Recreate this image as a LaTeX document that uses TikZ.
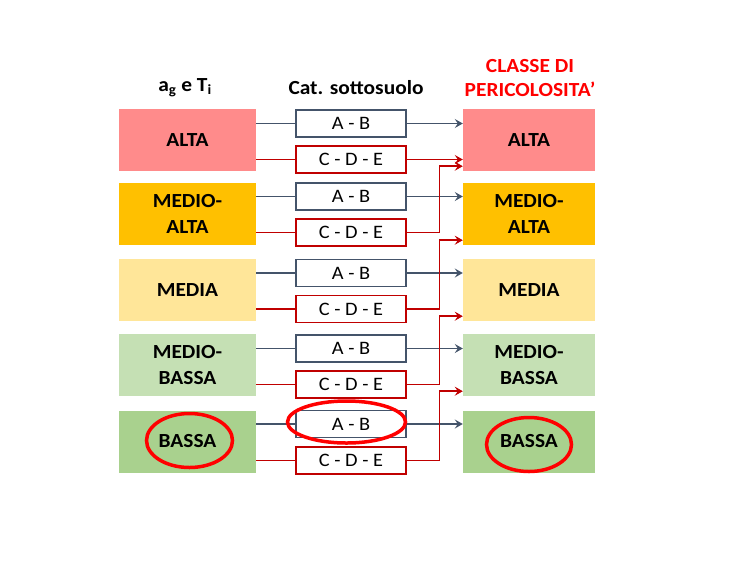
\documentclass[tikz,border=0pt]{standalone}
\usepackage{fontspec}
\setmainfont[FakeStretch=1.07]{Carlito}
\usetikzlibrary{arrows.meta,calc}
\definecolor{cAlta}{HTML}{FF8B8B}
\definecolor{cMAlta}{HTML}{FFC000}
\definecolor{cMedia}{HTML}{FFE699}
\definecolor{cMBassa}{HTML}{C5E0B4}
\definecolor{cBassa}{HTML}{A9D18E}
\definecolor{lgray}{HTML}{44546A}
\definecolor{lred}{HTML}{C00000}
\begin{document}
\begin{tikzpicture}[x=1pt,y=-1pt,
  lvl/.style={rectangle,minimum height=62pt,inner sep=0pt,align=center,
    font=\fontsize{20}{26}\selectfont\bfseries},
  lbox/.style={lvl,minimum width=137pt},
  rbox/.style={lvl,minimum width=132pt},
  abbox/.style={rectangle,draw=lgray,line width=1.6pt,fill=white,minimum width=110pt,minimum height=27pt,inner sep=0pt,font=\fontsize{19}{22}\selectfont},
  cdbox/.style={abbox,draw=lred,line width=1.4pt},
  gline/.style={draw=lgray,line width=1.7pt},
  rline/.style={draw=lred,line width=1.5pt},
  tip/.style={-{Stealth[length=8pt,width=9pt,inset=3pt]}},
  hdr/.style={font=\fontsize{20}{24}\selectfont\bfseries}
]
\useasboundingbox (0,0) rectangle (738,571);
% headers
\node[hdr] (h1) at (185,88) {a\textsubscript{g} e T\textsubscript{i}};
\node[hdr] (h2) at (356,88) {Cat. sottosuolo};
\node[hdr,text=red,align=center] (h3) at (530,78) {CLASSE DI\\PERICOLOSITA’};
% left boxes
\node[lbox,fill=cAlta] (L1) at (187.5,140) {ALTA};
\node[lbox,fill=cMAlta] (L2) at (187.5,214) {MEDIO-\\ALTA};
\node[lbox,fill=cMedia] (L3) at (187.5,290) {MEDIA};
\node[lbox,fill=cMBassa] (L4) at (187.5,365) {MEDIO-\\BASSA};
\node[lbox,fill=cBassa] (L5) at (187.5,441.5) {BASSA};
% right boxes
\node[rbox,fill=cAlta] (R1) at (529,140) {ALTA};
\node[rbox,fill=cMAlta] (R2) at (529,214) {MEDIO-\\ALTA};
\node[rbox,fill=cMedia] (R3) at (529,290) {MEDIA};
\node[rbox,fill=cMBassa] (R4) at (529,365) {MEDIO-\\BASSA};
\node[rbox,fill=cBassa] (R5) at (529,441.5) {BASSA};
% middle boxes
\node[abbox] (A1) at (351,123.5) {A - B};
\node[cdbox] (C1) at (351,159.5) {C - D - E};
\node[abbox] (A2) at (351,196.5) {A - B};
\node[cdbox] (C2) at (351,232.5) {C - D - E};
\node[abbox] (A3) at (351,273) {A - B};
\node[cdbox] (C3) at (351,309) {C - D - E};
\node[abbox] (A4) at (351,348.5) {A - B};
\node[cdbox] (C4) at (351,384.5) {C - D - E};
\node[abbox] (A5) at (351,424) {A - B};
\node[cdbox] (C5) at (351,460.5) {C - D - E};
% connectors
\foreach \i in {1,...,5}{
  \draw[gline] (L\i.east |- A\i.west) -- (A\i.west);
  \draw[gline,tip] (A\i.east) -- (R\i.west |- A\i.east);
  \draw[rline] (L\i.east |- C\i.west) -- (C\i.west);
}
\draw[rline,tip] (C1.east) -- (R1.west |- C1.east);
\foreach \i/\j in {2/1,3/2,4/3,5/4}{
  \draw[rline,tip] (C\i.east) -- ++(33,0) |- ($(R\j.south west)+(0,-5)$);
}
% highlight ellipses
\draw[draw=red,line width=3.5pt] (189.5,440.5) ellipse [x radius=43pt,y radius=27pt];
\draw[draw=red,line width=3.5pt] (346.5,422) ellipse [x radius=59pt,y radius=21pt];
\draw[draw=red,line width=3.5pt] (529,444.5) ellipse [x radius=42.5pt,y radius=27pt];
\end{tikzpicture}
\end{document}
